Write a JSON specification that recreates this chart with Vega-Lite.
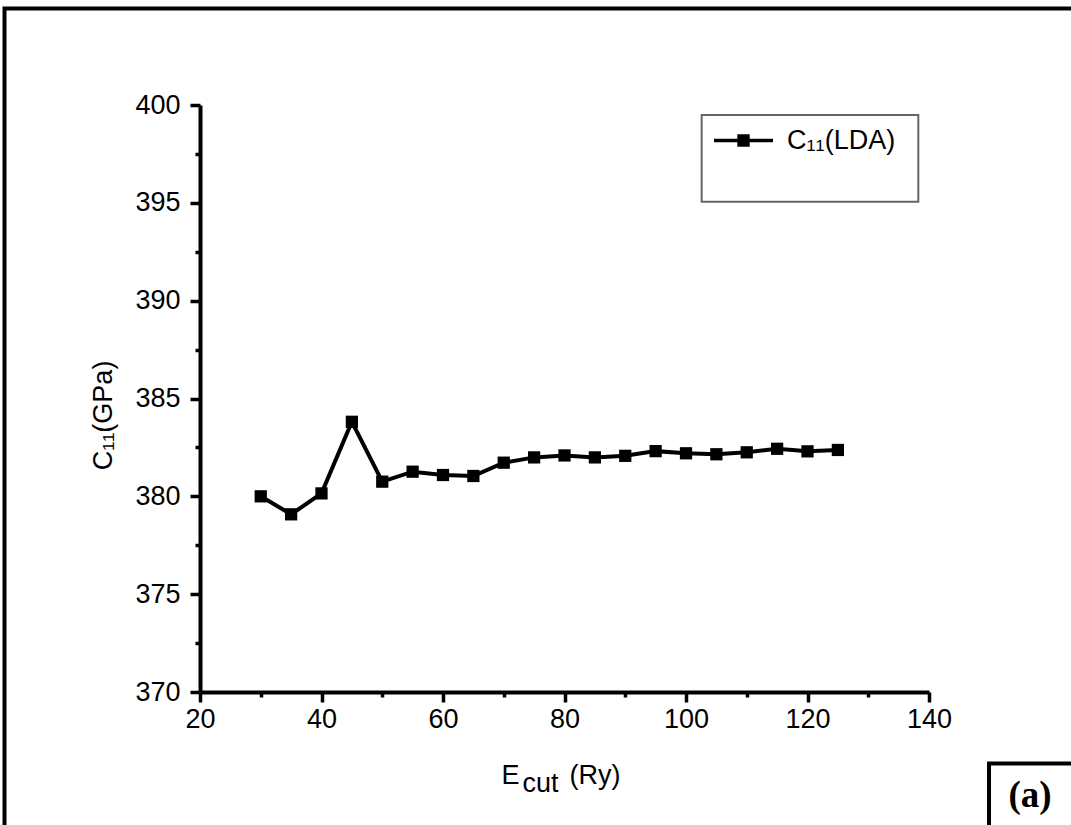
{
  "$schema": "https://vega.github.io/schema/vega-lite/v6.json",
  "width": 729,
  "height": 587,
  "autosize": {"type": "none"},
  "padding": {"left": 200, "top": 105, "right": 142, "bottom": 133},
  "background": "white",
  "config": {"view": {"stroke": null}, "font": "Liberation Sans"},
  "data": {
    "values": [
      {"ecut": 30, "c11": 380.0, "series": "C₁₁(LDA)"},
      {"ecut": 35, "c11": 379.08, "series": "C₁₁(LDA)"},
      {"ecut": 40, "c11": 380.15, "series": "C₁₁(LDA)"},
      {"ecut": 45, "c11": 383.81, "series": "C₁₁(LDA)"},
      {"ecut": 50, "c11": 380.75, "series": "C₁₁(LDA)"},
      {"ecut": 55, "c11": 381.26, "series": "C₁₁(LDA)"},
      {"ecut": 60, "c11": 381.09, "series": "C₁₁(LDA)"},
      {"ecut": 65, "c11": 381.04, "series": "C₁₁(LDA)"},
      {"ecut": 70, "c11": 381.72, "series": "C₁₁(LDA)"},
      {"ecut": 75, "c11": 381.99, "series": "C₁₁(LDA)"},
      {"ecut": 80, "c11": 382.09, "series": "C₁₁(LDA)"},
      {"ecut": 85, "c11": 381.99, "series": "C₁₁(LDA)"},
      {"ecut": 90, "c11": 382.07, "series": "C₁₁(LDA)"},
      {"ecut": 95, "c11": 382.31, "series": "C₁₁(LDA)"},
      {"ecut": 100, "c11": 382.2, "series": "C₁₁(LDA)"},
      {"ecut": 105, "c11": 382.15, "series": "C₁₁(LDA)"},
      {"ecut": 110, "c11": 382.25, "series": "C₁₁(LDA)"},
      {"ecut": 115, "c11": 382.43, "series": "C₁₁(LDA)"},
      {"ecut": 120, "c11": 382.3, "series": "C₁₁(LDA)"},
      {"ecut": 125, "c11": 382.37, "series": "C₁₁(LDA)"}
    ]
  },
  "resolve": {"axis": {"x": "independent", "y": "independent"}},
  "layer": [
    {
      "data": {"values": [{}]},
      "mark": {"type": "rect", "fill": "transparent", "stroke": "black", "strokeWidth": 4},
      "encoding": {
        "x": {"datum": -12.18, "type": "quantitative", "scale": {"domain": [20, 140], "nice": false, "zero": false},
          "axis": {"orient": "bottom", "values": [30, 50, 70, 90, 110, 130], "tickSize": 5, "tickWidth": 3.5, "tickColor": "black", "labels": false, "domain": false, "grid": false,
            "title": "cut", "titleFont": "Liberation Sans", "titleFontSize": 27, "titleFontWeight": "normal", "titleColor": "black", "titleX": 322, "titleY": 99, "titleAlign": "left", "titleBaseline": "alphabetic"}},
        "x2": {"datum": 175},
        "y": {"datum": 404.93, "type": "quantitative", "scale": {"domain": [370, 400], "nice": false, "zero": false},
          "axis": {"orient": "left", "values": [372.5, 377.5, 382.5, 387.5, 392.5, 397.5], "tickSize": 5, "tickWidth": 3.5, "tickColor": "black", "labels": false, "domain": false, "grid": false, "title": null}},
        "y2": {"datum": 355}
      }
    },
    {
      "data": {"values": [{}]},
      "mark": {"type": "rect", "fill": "white", "stroke": "#666666", "strokeWidth": 2},
      "encoding": {
        "x": {"datum": 102.58, "type": "quantitative", "scale": {"domain": [20, 140], "nice": false, "zero": false}, "axis": null},
        "x2": {"datum": 138.24},
        "y": {"datum": 399.49, "type": "quantitative", "scale": {"domain": [370, 400], "nice": false, "zero": false}, "axis": null},
        "y2": {"datum": 395.06}
      }
    },
    {
      "data": {"values": [{}]},
      "mark": {"type": "rect", "fill": "transparent", "stroke": "black", "strokeWidth": 4},
      "encoding": {
        "x": {"datum": 149.88, "type": "quantitative", "scale": {"domain": [20, 140], "nice": false, "zero": false},
          "axis": {"orient": "bottom", "ticks": false, "labels": false, "domain": false, "grid": false,
            "title": "(Ry)", "titleFont": "Liberation Sans", "titleFontSize": 27, "titleFontWeight": "normal", "titleColor": "black", "titleX": 369, "titleY": 91, "titleAlign": "left", "titleBaseline": "alphabetic"}},
        "x2": {"datum": 175},
        "y": {"datum": 366.35, "type": "quantitative", "scale": {"domain": [370, 400], "nice": false, "zero": false}, "axis": null},
        "y2": {"datum": 355}
      }
    },
    {
      "data": {"values": [{}]},
      "mark": {"type": "text", "text": "(a)", "font": "Liberation Serif", "fontWeight": "bold", "fontSize": 37, "align": "center", "baseline": "alphabetic", "color": "black"},
      "encoding": {
        "x": {"datum": 156.63, "type": "quantitative", "scale": {"domain": [20, 140], "nice": false, "zero": false}, "axis": null},
        "y": {"datum": 364.1, "type": "quantitative", "scale": {"domain": [370, 400], "nice": false, "zero": false}, "axis": null}
      }
    },
    {
      "mark": {"type": "line", "strokeWidth": 4},
      "encoding": {
        "x": {"field": "ecut", "type": "quantitative", "scale": {"domain": [20, 140], "nice": false, "zero": false},
          "axis": {"orient": "bottom", "values": [20, 40, 60, 80, 100, 120, 140], "tickSize": 10, "tickWidth": 3.5, "tickColor": "black", "domainColor": "black", "domainWidth": 4,
            "labelFont": "Liberation Sans", "labelFontSize": 27, "labelColor": "black", "labelPadding": 4, "labelFlush": false, "labelOverlap": false, "grid": false,
            "title": "E", "titleFont": "Liberation Sans", "titleFontSize": 27, "titleFontWeight": "normal", "titleColor": "black", "titleX": 301, "titleY": 91, "titleAlign": "left", "titleBaseline": "alphabetic"}},
        "y": {"field": "c11", "type": "quantitative", "scale": {"domain": [370, 400], "nice": false, "zero": false},
          "axis": {"orient": "left", "values": [370, 375, 380, 385, 390, 395, 400], "tickSize": 10, "tickWidth": 3.5, "tickColor": "black", "domainColor": "black", "domainWidth": 4,
            "labelFont": "Liberation Sans", "labelFontSize": 27, "labelColor": "black", "labelPadding": 10, "labelFlush": false, "labelOverlap": false, "grid": false,
            "title": "C₁₁(GPa)", "titleFont": "Liberation Sans", "titleFontSize": 27, "titleFontWeight": "normal", "titleColor": "black", "titleAngle": -90, "titleX": -97, "titleY": 310, "titleAlign": "center", "titleBaseline": "middle"}},
        "color": {"field": "series", "type": "nominal", "scale": {"range": ["black"]},
          "legend": {"orient": "none", "legendX": 512, "legendY": 4, "title": null, "padding": 0,
            "symbolType": "M-1,0H1M-0.15,-0.15H0.15V0.15H-0.15Z", "symbolSize": 3481, "symbolStrokeWidth": 3.5, "symbolFillColor": "black", "symbolStrokeColor": "black",
            "labelFont": "Liberation Sans", "labelFontSize": 27, "labelColor": "black", "labelOffset": 12, "labelLimit": 400,
            "encode": {"symbols": {"update": {"fill": {"value": "black"}, "stroke": {"value": "black"}, "strokeWidth": {"value": 3.5}, "opacity": {"value": 1}}}}}}
      }
    },
    {
      "mark": {"type": "point", "shape": "square", "filled": true, "size": 150, "color": "black", "opacity": 1},
      "encoding": {
        "x": {"field": "ecut", "type": "quantitative", "scale": {"domain": [20, 140], "nice": false, "zero": false}, "axis": null},
        "y": {"field": "c11", "type": "quantitative", "scale": {"domain": [370, 400], "nice": false, "zero": false}, "axis": null}
      }
    }
  ]
}
